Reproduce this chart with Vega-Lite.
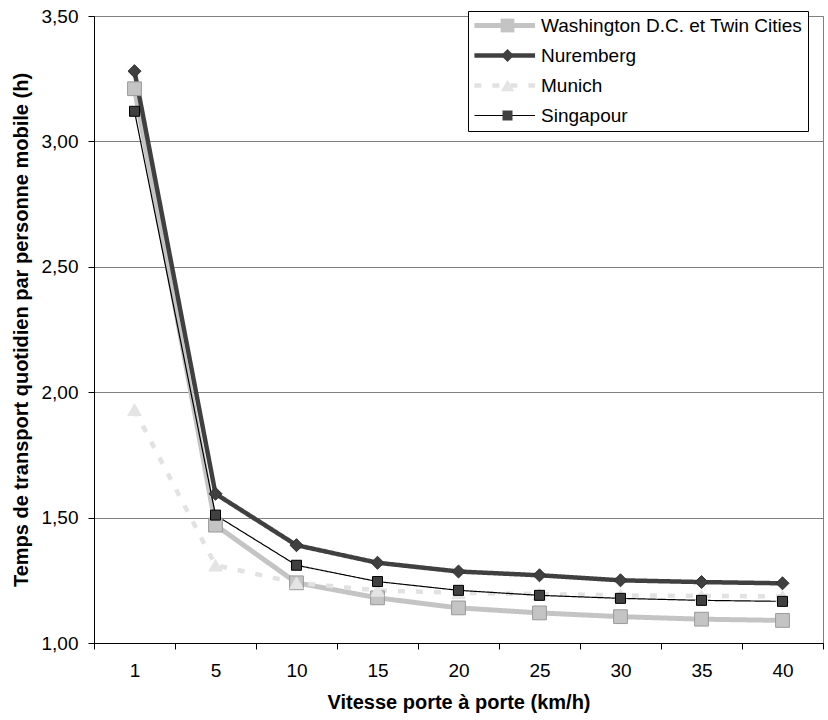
{
  "$schema": "https://vega.github.io/schema/vega-lite/v6.json",
  "width": 729,
  "height": 627,
  "autosize": {"type": "none"},
  "padding": {"left": 94, "top": 16, "right": 5, "bottom": 77},
  "background": "white",
  "config": {
    "font": "Liberation Sans",
    "view": {"stroke": "#808080", "strokeWidth": 1}
  },
  "data": {
    "values": [
      {"series": "Washington D.C. et Twin Cities", "speed": "1", "value": 3.21},
      {"series": "Washington D.C. et Twin Cities", "speed": "5", "value": 1.47},
      {"series": "Washington D.C. et Twin Cities", "speed": "10", "value": 1.24},
      {"series": "Washington D.C. et Twin Cities", "speed": "15", "value": 1.18},
      {"series": "Washington D.C. et Twin Cities", "speed": "20", "value": 1.14},
      {"series": "Washington D.C. et Twin Cities", "speed": "25", "value": 1.12},
      {"series": "Washington D.C. et Twin Cities", "speed": "30", "value": 1.105},
      {"series": "Washington D.C. et Twin Cities", "speed": "35", "value": 1.095},
      {"series": "Washington D.C. et Twin Cities", "speed": "40", "value": 1.09},
      {"series": "Nuremberg", "speed": "1", "value": 3.28},
      {"series": "Nuremberg", "speed": "5", "value": 1.595},
      {"series": "Nuremberg", "speed": "10", "value": 1.39},
      {"series": "Nuremberg", "speed": "15", "value": 1.32},
      {"series": "Nuremberg", "speed": "20", "value": 1.285},
      {"series": "Nuremberg", "speed": "25", "value": 1.27},
      {"series": "Nuremberg", "speed": "30", "value": 1.25},
      {"series": "Nuremberg", "speed": "35", "value": 1.243},
      {"series": "Nuremberg", "speed": "40", "value": 1.238},
      {"series": "Munich", "speed": "1", "value": 1.93},
      {"series": "Munich", "speed": "5", "value": 1.31},
      {"series": "Munich", "speed": "10", "value": 1.24},
      {"series": "Munich", "speed": "15", "value": 1.21},
      {"series": "Munich", "speed": "20", "value": 1.2},
      {"series": "Munich", "speed": "25", "value": 1.195},
      {"series": "Munich", "speed": "30", "value": 1.19},
      {"series": "Munich", "speed": "35", "value": 1.188},
      {"series": "Munich", "speed": "40", "value": 1.186},
      {"series": "Singapour", "speed": "1", "value": 3.12},
      {"series": "Singapour", "speed": "5", "value": 1.51},
      {"series": "Singapour", "speed": "10", "value": 1.31},
      {"series": "Singapour", "speed": "15", "value": 1.245},
      {"series": "Singapour", "speed": "20", "value": 1.21},
      {"series": "Singapour", "speed": "25", "value": 1.19},
      {"series": "Singapour", "speed": "30", "value": 1.178},
      {"series": "Singapour", "speed": "35", "value": 1.17},
      {"series": "Singapour", "speed": "40", "value": 1.166}
    ]
  },
  "encoding": {
    "x": {
      "field": "speed",
      "type": "ordinal",
      "sort": ["1", "5", "10", "15", "20", "25", "30", "35", "40"],
      "scale": {"type": "band", "paddingInner": 0, "paddingOuter": 0},
      "axis": {
        "title": "Vitesse porte à porte (km/h)",
        "titleFontSize": 20,
        "titleFontWeight": "bold",
        "titleColor": "#000",
        "titlePadding": 12,
        "labelFontSize": 19,
        "labelColor": "#000",
        "labelAngle": 0,
        "labelPadding": 12,
        "tickBand": "extent",
        "tickColor": "#000",
        "tickSize": 6,
        "domainColor": "#000",
        "grid": false
      }
    },
    "y": {
      "field": "value",
      "type": "quantitative",
      "scale": {"domain": [1, 3.5], "nice": false, "zero": false},
      "axis": {
        "title": "Temps de transport quotidien par personne mobile (h)",
        "titleFontSize": 20,
        "titleFontWeight": "bold",
        "titleColor": "#000",
        "titlePadding": 10,
        "values": [1, 1.5, 2, 2.5, 3, 3.5],
        "labelExpr": "replace(format(datum.value, '.2f'), '.', ',')",
        "labelFontSize": 19,
        "labelColor": "#000",
        "labelPadding": 10,
        "tickColor": "#000",
        "tickSize": 6,
        "domainColor": "#000",
        "gridColor": "#808080",
        "gridWidth": 1
      }
    }
  },
  "layer": [
    {
      "mark": {"type": "line"},
      "encoding": {
        "stroke": {
          "field": "series",
          "type": "nominal",
          "scale": {
            "domain": ["Washington D.C. et Twin Cities", "Nuremberg", "Munich", "Singapour"],
            "range": ["#c4c4c4", "#404040", "#e2e2e2", "#000000"]
          },
          "legend": {
            "title": null,
            "orient": "none",
            "legendX": 374,
            "legendY": -5,
            "zindex": 1,
            "symbolType": "M-4.8,0H4.0",
            "symbolSize": 190,
            "fillColor": "#ffffff",
            "strokeColor": "#000000",
            "padding": 5,
            "labelFontSize": 19,
            "labelColor": "#000",
            "labelLimit": 400,
            "rowPadding": 10,
            "symbolOffset": 25,
            "labelOffset": 24
          }
        },
        "strokeWidth": {
          "field": "series",
          "type": "nominal",
          "scale": {
            "type": "ordinal",
            "domain": ["Washington D.C. et Twin Cities", "Nuremberg", "Munich", "Singapour"],
            "range": [5, 4.5, 4.5, 1.2]
          },
          "legend": {
            "title": null,
            "orient": "none",
            "legendX": 374,
            "legendY": -5,
            "zindex": 1,
            "symbolType": "M-4.8,0H4.0",
            "symbolSize": 190,
            "fillColor": "#ffffff",
            "strokeColor": "#000000",
            "padding": 5,
            "labelFontSize": 19,
            "labelColor": "#000",
            "labelLimit": 400,
            "rowPadding": 10,
            "symbolOffset": 25,
            "labelOffset": 24
          }
        },
        "strokeDash": {
          "field": "series",
          "type": "nominal",
          "scale": {
            "domain": ["Washington D.C. et Twin Cities", "Nuremberg", "Munich", "Singapour"],
            "range": [[1, 0], [1, 0], [7, 11], [1, 0]]
          },
          "legend": {
            "title": null,
            "orient": "none",
            "legendX": 374,
            "legendY": -5,
            "zindex": 1,
            "symbolType": "M-4.8,0H4.0",
            "symbolSize": 190,
            "fillColor": "#ffffff",
            "strokeColor": "#000000",
            "padding": 5,
            "labelFontSize": 19,
            "labelColor": "#000",
            "labelLimit": 400,
            "rowPadding": 10,
            "symbolOffset": 25,
            "labelOffset": 24
          }
        }
      }
    },
    {
      "mark": {"type": "point", "filled": true, "opacity": 1, "strokeWidth": 1},
      "encoding": {
        "shape": {
          "field": "series",
          "type": "nominal",
          "scale": {
            "domain": ["Washington D.C. et Twin Cities", "Nuremberg", "Munich", "Singapour"],
            "range": ["square", "diamond", "triangle-up", "square"]
          },
          "legend": {
            "title": null,
            "orient": "none",
            "legendX": 374,
            "legendY": -5,
            "zindex": 2,
            "padding": 5,
            "labelFontSize": 19,
            "labelColor": "#000",
            "labelOpacity": 0,
            "labelLimit": 400,
            "rowPadding": 10,
            "symbolOffset": 25,
            "labelOffset": 24,
            "symbolStrokeColor": "#555555",
            "symbolStrokeWidth": 0.8
          }
        },
        "fill": {
          "field": "series",
          "type": "nominal",
          "scale": {
            "domain": ["Washington D.C. et Twin Cities", "Nuremberg", "Munich", "Singapour"],
            "range": ["#c4c4c4", "#404040", "#e4e4e4", "#404040"]
          },
          "legend": {
            "title": null,
            "orient": "none",
            "legendX": 374,
            "legendY": -5,
            "zindex": 2,
            "padding": 5,
            "labelFontSize": 19,
            "labelColor": "#000",
            "labelOpacity": 0,
            "labelLimit": 400,
            "rowPadding": 10,
            "symbolOffset": 25,
            "labelOffset": 24
          }
        },
        "size": {
          "field": "series",
          "type": "nominal",
          "scale": {
            "type": "ordinal",
            "domain": ["Washington D.C. et Twin Cities", "Nuremberg", "Munich", "Singapour"],
            "range": [190, 170, 180, 100]
          },
          "legend": {
            "title": null,
            "orient": "none",
            "legendX": 374,
            "legendY": -5,
            "zindex": 2,
            "padding": 5,
            "labelFontSize": 19,
            "labelColor": "#000",
            "labelOpacity": 0,
            "labelLimit": 400,
            "rowPadding": 10,
            "symbolOffset": 25,
            "labelOffset": 24
          }
        },
        "stroke": {
          "field": "series",
          "type": "nominal",
          "scale": {
            "domain": ["Washington D.C. et Twin Cities", "Nuremberg", "Munich", "Singapour"],
            "range": ["#9a9a9a", "#303030", "#e4e4e4", "#000000"]
          },
          "legend": null
        }
      }
    }
  ],
  "resolve": {"scale": {"stroke": "independent", "strokeWidth": "independent", "strokeDash": "independent"}}
}
